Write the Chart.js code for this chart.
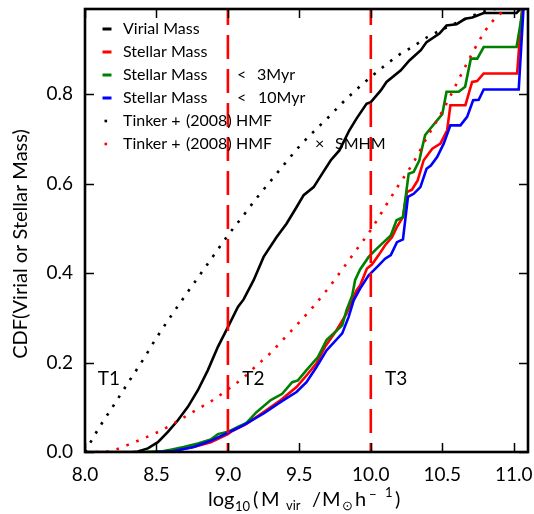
<!DOCTYPE html>
<html><head><meta charset="utf-8">
<script src="https://cdn.jsdelivr.net/npm/chart.js@4/dist/chart.umd.min.js"></script>
<style>html,body{margin:0;padding:0;background:#fff;overflow:hidden}canvas{display:block}</style>
</head><body>
<canvas id="c" width="534" height="514"></canvas>
<script>
// ---- data (x = log10 Mvir, y = CDF) ----
const xTickValues = [8.0, 8.5, 9.0, 9.5, 10.0, 10.5, 11.0];
const yTickValues = [0.0, 0.2, 0.4, 0.6, 0.8];
const seriesNames = ['Virial Mass', 'Stellar Mass', 'Stellar Mass < 3Myr', 'Stellar Mass < 10Myr',
  'Tinker + (2008) HMF', 'Tinker + (2008) HMF × SMHM'];
const regionLabels = ['T1', 'T2', 'T3'];
const regionLabelX = [8.09, 9.1, 10.1];
const regionLabelY = 0.15;
const regionBoundaries = [9.0, 10.0];

const virialMass = [[8.0,0],[8.33,0],[8.37,0.001],[8.44,0.008],[8.51,0.022],[8.58,0.045],[8.65,0.071],
  [8.72,0.101],[8.79,0.138],[8.86,0.183],[8.93,0.235],[9.0,0.279],[9.07,0.324],[9.11,0.341],[9.18,0.384],
  [9.25,0.436],[9.34,0.480],[9.41,0.510],[9.48,0.547],[9.53,0.574],[9.60,0.592],[9.66,0.622],[9.72,0.652],
  [9.78,0.674],[9.85,0.719],[9.90,0.745],[9.97,0.778],[10.0,0.782],[10.07,0.808],[10.11,0.827],[10.21,0.853],
  [10.27,0.875],[10.35,0.898],[10.39,0.916],[10.48,0.935],[10.53,0.953],[10.60,0.956],[10.66,0.968],
  [10.71,0.971],[10.79,0.981],[11.02,0.981],[11.06,0.995],[11.08,1.0]];

const stellarMass = [[8.55,0],[8.62,0.003],[8.76,0.011],[8.88,0.022],[9.0,0.040],[9.02,0.045],[9.13,0.063],
  [9.25,0.089],[9.37,0.116],[9.48,0.145],[9.55,0.171],[9.62,0.198],[9.68,0.235],[9.76,0.272],[9.83,0.309],
  [9.87,0.339],[9.90,0.361],[9.925,0.372],[9.973,0.41],[10.008,0.419],[10.055,0.44],[10.10,0.462],
  [10.148,0.48],[10.183,0.503],[10.225,0.525],[10.253,0.581],[10.288,0.586],[10.328,0.607],[10.37,0.652],
  [10.43,0.678],[10.487,0.689],[10.534,0.719],[10.557,0.775],[10.662,0.775],[10.709,0.827],[10.744,0.829],
  [10.79,0.846],[11.024,0.846],[11.06,1.0]];

const stellarMass3Myr = [[8.40,0],[8.55,0.002],[8.60,0.005],[8.69,0.011],[8.79,0.019],[8.88,0.028],
  [8.93,0.040],[9.0,0.045],[9.07,0.056],[9.13,0.065],[9.20,0.089],[9.30,0.116],[9.38,0.130],[9.45,0.156],
  [9.49,0.160],[9.55,0.183],[9.63,0.212],[9.69,0.250],[9.80,0.283],[9.83,0.317],[9.87,0.350],[9.89,0.384],
  [9.925,0.408],[9.985,0.436],[10.04,0.454],[10.09,0.469],[10.14,0.484],[10.18,0.518],[10.225,0.525],
  [10.265,0.622],[10.30,0.626],[10.34,0.652],[10.35,0.667],[10.38,0.708],[10.43,0.728],[10.50,0.755],
  [10.53,0.805],[10.615,0.805],[10.66,0.816],[10.70,0.879],[10.745,0.879],[10.79,0.905],[11.02,0.905],
  [11.07,1.0]];

const stellarMass10Myr = [[8.50,0],[8.62,0.002],[8.76,0.011],[8.88,0.025],[9.0,0.043],[9.11,0.060],
  [9.25,0.086],[9.37,0.112],[9.48,0.134],[9.55,0.156],[9.62,0.190],[9.69,0.227],[9.80,0.265],[9.845,0.302],
  [9.88,0.339],[9.925,0.365],[9.985,0.395],[10.043,0.413],[10.10,0.432],[10.14,0.440],[10.183,0.469],
  [10.225,0.475],[10.26,0.570],[10.30,0.577],[10.347,0.592],[10.39,0.633],[10.42,0.640],[10.464,0.659],
  [10.51,0.689],[10.557,0.730],[10.627,0.730],[10.674,0.749],[10.716,0.786],[10.755,0.787],[10.79,0.810],
  [11.035,0.810],[11.07,1.0]];

const tinkerHMF = [[8.0,0],[8.1,0.055],[8.2,0.104],[8.3,0.154],[8.4,0.203],[8.5,0.255],[8.6,0.303],
  [8.7,0.349],[8.8,0.394],[8.9,0.439],[9.0,0.484],[9.1,0.525],[9.2,0.567],[9.3,0.606],[9.4,0.645],
  [9.5,0.683],[9.6,0.716],[9.7,0.747],[9.8,0.780],[9.9,0.810],[10.0,0.838],[10.1,0.864],[10.2,0.888],
  [10.3,0.907],[10.4,0.928],[10.5,0.944],[10.6,0.959],[10.7,0.973],[10.8,0.985],[10.9,0.992],[11.0,0.996],
  [11.1,0.998]];

const tinkerHMFxSMHM = [[8.0,0],[8.1,0],[8.15,0.001],[8.2,0.004],[8.3,0.016],[8.4,0.029],[8.5,0.043],
  [8.6,0.060],[8.7,0.079],[8.8,0.098],[8.9,0.117],[9.0,0.140],[9.1,0.164],[9.2,0.193],[9.3,0.222],
  [9.4,0.256],[9.5,0.290],[9.6,0.326],[9.7,0.365],[9.8,0.408],[9.9,0.452],[10.0,0.496],[10.1,0.548],
  [10.2,0.599],[10.3,0.648],[10.4,0.707],[10.5,0.761],[10.6,0.823],[10.7,0.885],[10.8,0.941],[10.9,0.978],
  [11.0,0.994],[11.1,1.0]];

// ---- helpers ----
const pts = arr => arr.map(p => ({x: p[0], y: p[1]}));
const FONT = 'Lato';

function solid(label, data, color, order) {
  return {label, data: pts(data), borderColor: color, borderWidth: 2.6, pointRadius: 0,
    tension: 0, fill: false, order, clip: 0};
}
function dotted(label, data, color, order) {
  return {label, data: pts(data), borderColor: color, borderWidth: 2.6, borderDash: [2.6, 8],
    borderCapStyle: 'butt', pointRadius: 0, cubicInterpolationMode: 'monotone', fill: false, order, clip: 0};
}
function vline(xv) {
  return {label: '', data: [{x: xv, y: 0}, {x: xv, y: 1}], borderColor: '#ff0000', borderWidth: 2.6,
    borderDash: [24, 10], borderDashOffset: 15, pointRadius: 0, fill: false, order: 1, clip: 0};
}
function noPad(s) { s.paddingLeft = 0; s.paddingRight = 0; s.paddingTop = 0; s.paddingBottom = 0; }

const overlay = {
  id: 'overlay',
  afterDatasetsDraw(chart) {
    const {ctx, chartArea: a, scales: {x, y}} = chart;
    ctx.save();
    // region labels
    ctx.fillStyle = '#000';
    ctx.font = `19px ${FONT}`;
    ctx.textBaseline = 'alphabetic';
    ctx.textAlign = 'left';
    regionLabels.forEach((t, i) => ctx.fillText(t, x.getPixelForValue(regionLabelX[i]), y.getPixelForValue(regionLabelY)));
    // inward ticks
    ctx.strokeStyle = '#000';
    ctx.lineWidth = 1.5;
    ctx.beginPath();
    xTickValues.forEach(v => {
      const px = Math.round(x.getPixelForValue(v)) + 0.5;
      ctx.moveTo(px, a.bottom); ctx.lineTo(px, a.bottom - 9);
      ctx.moveTo(px, a.top); ctx.lineTo(px, a.top + 9);
    });
    yTickValues.forEach(v => {
      const py = Math.round(y.getPixelForValue(v)) + 0.5;
      ctx.moveTo(a.left, py); ctx.lineTo(a.left + 9, py);
      ctx.moveTo(a.right, py); ctx.lineTo(a.right - 9, py);
    });
    ctx.stroke();
    // frame
    ctx.lineWidth = 2.6;
    ctx.strokeRect(a.left, a.top, a.right - a.left, a.bottom - a.top);

    // legend
    const rows = [29, 52, 75, 98, 121, 144];
    const colors = ['#000000', '#ff0000', '#008000', '#0000ff'];
    ctx.font = `16px ${FONT}`;
    ctx.textBaseline = 'middle';
    for (let i = 0; i < 4; i++) {
      ctx.strokeStyle = colors[i]; ctx.lineWidth = 3;
      ctx.beginPath(); ctx.moveTo(102.5, rows[i]); ctx.lineTo(111.5, rows[i]); ctx.stroke();
    }
    ctx.fillStyle = '#000'; ctx.fillRect(104.5, rows[4] - 1.3, 2.6, 2.6);
    ctx.fillStyle = '#ff0000'; ctx.fillRect(104.5, rows[5] - 1.3, 2.6, 2.6);
    ctx.fillStyle = '#000';
    ctx.fillText('Virial Mass', 123, rows[0]);
    ctx.fillText('Stellar Mass', 123, rows[1]);
    ctx.fillText('Stellar Mass', 123, rows[2]);
    ctx.fillText('<', 237, rows[2]);
    ctx.fillText('3Myr', 257, rows[2]);
    ctx.fillText('Stellar Mass', 123, rows[3]);
    ctx.fillText('<', 237, rows[3]);
    ctx.fillText('10Myr', 258, rows[3]);
    for (const r of [rows[4], rows[5]]) {
      ctx.fillText('Tinker +', 123, r);
      ctx.fillText('(2008)', 186, r);
      ctx.fillText('HMF', 236, r);
    }
    ctx.fillText('×', 315, rows[5]);
    ctx.fillText('SMHM', 335, rows[5]);

    // y axis title
    ctx.save();
    ctx.translate(21, 244);
    ctx.rotate(-Math.PI / 2);
    ctx.textAlign = 'center';
    ctx.textBaseline = 'middle';
    ctx.font = `20px ${FONT}`;
    ctx.fillText('CDF(Virial or Stellar Mass)', 0, 0);
    ctx.restore();

    // x axis title with sub/superscripts
    ctx.textBaseline = 'alphabetic';
    ctx.textAlign = 'left';
    const big = `20px ${FONT}`, small = `13px ${FONT}`;
    const parts = [
      ['log', 208, 506, big], ['10', 235, 511, small], ['(', 253, 506, big], ['M', 261, 506, big],
      ['vir', 286, 510, small], ['/', 312, 506, big], ['M', 322, 506, big], ['\u2299', 342, 510, small],
      ['h', 355, 506, big], ['\u2212', 369, 499, small], ['1', 385, 497, small], [')', 395, 506, big]
    ];
    parts.forEach(([t, px, py, f]) => { ctx.font = f; ctx.fillText(t, px, py); });
    ctx.restore();
  }
};

Chart.defaults.font.family = FONT;
Chart.defaults.color = '#000';

new Chart(document.getElementById('c'), {
  type: 'line',
  data: {
    datasets: [
      solid(seriesNames[0], virialMass, '#000000', 8),
      solid(seriesNames[1], stellarMass, '#ff0000', 7),
      solid(seriesNames[2], stellarMass3Myr, '#008000', 6),
      solid(seriesNames[3], stellarMass10Myr, '#0000ff', 5),
      dotted(seriesNames[4], tinkerHMF, '#000000', 4),
      dotted(seriesNames[5], tinkerHMFxSMHM, '#ff0000', 3),
      vline(regionBoundaries[0]),
      vline(regionBoundaries[1])
    ]
  },
  options: {
    responsive: false,
    animation: false,
    devicePixelRatio: 1,
    layout: {padding: {top: 9, right: 6, left: 0, bottom: 0}},
    plugins: {legend: {display: false}, tooltip: {enabled: false}},
    scales: {
      x: {
        type: 'linear', min: 8.0, max: 11.1,
        grid: {display: false, drawTicks: false},
        border: {display: false},
        afterBuildTicks: s => { s.ticks = xTickValues.map(v => ({value: v})); },
        afterFit: s => { s.height = 62; noPad(s); },
        ticks: {font: {size: 19}, padding: 11, maxRotation: 0, callback: v => Number(v).toFixed(1)}
      },
      y: {
        type: 'linear', min: 0, max: 0.99,
        grid: {display: false, drawTicks: false},
        border: {display: false},
        afterBuildTicks: s => { s.ticks = yTickValues.map(v => ({value: v})); },
        afterFit: s => { s.width = 85; noPad(s); },
        ticks: {font: {size: 19}, padding: 12, callback: v => Number(v).toFixed(1)}
      }
    }
  },
  plugins: [overlay]
});
</script>
</body></html>
